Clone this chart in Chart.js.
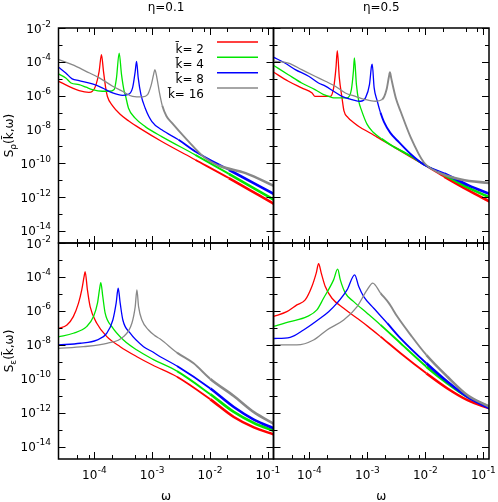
<!DOCTYPE html>
<html>
<head>
<meta charset="utf-8">
<title>S(k,w)</title>
<script src="https://cdn.jsdelivr.net/npm/chart.js@4.4.1/dist/chart.umd.min.js"></script>
<style>
  html, body { margin: 0; padding: 0; background: #fff; }
  #wrap { position: relative; width: 498px; height: 502px; overflow: hidden; }
  #wrap canvas { position: absolute; left: 0; top: 0; }
</style>
</head>
<body>
<div id="wrap">
  <canvas id="rho1" width="498" height="502"></canvas>
  <canvas id="rho5" width="498" height="502"></canvas>
  <canvas id="eps1" width="498" height="502"></canvas>
  <canvas id="eps5" width="498" height="502"></canvas>
</div>
<script>
// every point is [log10(omega), log10(S)]

// S_rho, eta = 0.1
var rho1_k2 = [[-4.62,-5.14],[-4.38,-5.54],[-4.26,-5.70],[-4.09,-5.80],[-4.03,-5.74],[-3.97,-5.39],[-3.913,-4.56],[-3.873,-3.58],[-3.838,-4.56],[-3.80,-5.54],[-3.77,-6.05],[-3.68,-6.6],[-3.55,-7.1],[-3.40,-7.5],[-3.20,-7.95],[-2.83,-8.71],[-2.25,-9.79],[-1.67,-10.87],[-0.88,-12.42]];
var rho1_k4 = [[-4.62,-4.71],[-4.49,-4.95],[-4.40,-5.25],[-4.26,-5.35],[-4.14,-5.50],[-4.03,-5.64],[-3.86,-5.74],[-3.74,-5.74],[-3.653,-5.64],[-3.613,-4.95],[-3.567,-3.48],[-3.526,-4.76],[-3.48,-5.74],[-3.46,-5.96],[-3.405,-6.74],[-3.29,-7.33],[-3.116,-7.83],[-2.83,-8.42],[-2.25,-9.5],[-1.67,-10.62],[-0.88,-12.17]];
var rho1_k8 = [[-4.62,-4.30],[-4.49,-4.66],[-4.38,-5.01],[-4.26,-5.11],[-4.03,-5.31],[-3.86,-5.54],[-3.68,-5.84],[-3.51,-5.98],[-3.42,-5.94],[-3.335,-5.54],[-3.289,-4.56],[-3.266,-3.97],[-3.237,-4.95],[-3.19,-5.94],[-3.116,-6.74],[-3.0,-7.53],[-2.83,-8.02],[-2.54,-8.61],[-2.25,-9.3],[-1.67,-10.38],[-0.88,-11.83]];
var rho1_k16 = [[-4.62,-3.86],[-4.38,-4.17],[-4.14,-4.56],[-3.91,-4.95],[-3.68,-5.44],[-3.51,-5.74],[-3.335,-6.04],[-3.16,-6.07],[-3.075,-5.94],[-3.018,-5.44],[-2.972,-4.76],[-2.949,-4.46],[-2.914,-4.95],[-2.874,-5.74],[-2.82,-6.6],[-2.75,-7.2],[-2.65,-7.63],[-2.42,-8.51],[-2.08,-9.69],[-1.85,-10.13],[-1.38,-10.58],[-0.88,-11.35]];

// S_rho, eta = 0.5
var rho5_k2 = [[-4.62,-4.60],[-4.36,-5.15],[-4.13,-5.54],[-3.95,-5.84],[-3.90,-6.04],[-3.72,-6.04],[-3.636,-6.04],[-3.578,-5.54],[-3.538,-4.36],[-3.515,-3.34],[-3.48,-4.95],[-3.434,-6.13],[-3.40,-6.9],[-3.33,-7.3],[-3.23,-7.6],[-3.13,-7.85],[-2.94,-8.22],[-2.83,-8.45],[-2.54,-9.02],[-2.25,-9.6],[-2.02,-10.07],[-1.672,-10.78],[-1.25,-11.6],[-0.88,-12.27]];
var rho5_k4 = [[-4.62,-4.20],[-4.36,-4.76],[-4.13,-5.25],[-3.90,-5.64],[-3.75,-5.94],[-3.665,-6.04],[-3.578,-6.13],[-3.434,-6.13],[-3.347,-6.13],[-3.272,-5.64],[-3.237,-4.56],[-3.22,-3.77],[-3.185,-5.35],[-3.145,-6.33],[-3.10,-6.84],[-3.0,-7.7],[-2.90,-8.15],[-2.75,-8.55],[-2.60,-8.9],[-2.25,-9.57],[-2.02,-10.07],[-1.672,-10.68],[-1.25,-11.45],[-0.88,-12.02]];
var rho5_k8 = [[-4.62,-3.72],[-4.42,-4.07],[-4.24,-4.46],[-4.01,-4.85],[-3.84,-5.25],[-3.72,-5.44],[-3.578,-5.74],[-3.434,-6.04],[-3.26,-6.23],[-3.116,-6.33],[-3.029,-6.13],[-2.96,-5.35],[-2.925,-4.26],[-2.913,-4.13],[-2.879,-5.54],[-2.827,-6.3],[-2.77,-7.0],[-2.71,-7.55],[-2.60,-8.2],[-2.48,-8.65],[-2.25,-9.45],[-2.02,-10.08],[-1.672,-10.6],[-1.25,-11.3],[-0.88,-11.82]];
var rho5_k16 = [[-4.62,-3.96],[-4.36,-4.07],[-4.13,-4.46],[-3.90,-4.85],[-3.72,-5.15],[-3.55,-5.44],[-3.376,-5.84],[-3.203,-6.04],[-3.029,-6.23],[-2.856,-6.33],[-2.74,-6.23],[-2.665,-5.64],[-2.625,-4.9],[-2.607,-4.62],[-2.585,-4.95],[-2.55,-5.5],[-2.50,-6.2],[-2.42,-6.95],[-2.25,-8.45],[-2.02,-9.95],[-1.79,-10.5],[-1.38,-10.95],[-0.88,-11.17]];

// S_eps, eta = 0.1
var eps1_k2 = [[-4.62,-7.04],[-4.47,-6.82],[-4.36,-6.33],[-4.27,-5.54],[-4.214,-4.76],[-4.173,-3.97],[-4.156,-3.68],[-4.116,-4.76],[-4.069,-5.74],[-3.954,-6.72],[-3.78,-7.51],[-3.549,-8.1],[-3.26,-8.69],[-2.99,-9.18],[-2.567,-9.87],[-1.99,-11.2],[-1.584,-12.24],[-1.237,-12.85],[-0.88,-13.28]];
var eps1_k4 = [[-4.62,-7.52],[-4.36,-7.31],[-4.13,-6.92],[-4.01,-6.33],[-3.942,-5.54],[-3.908,-4.76],[-3.884,-4.33],[-3.85,-5.15],[-3.809,-6.13],[-3.693,-6.92],[-3.492,-7.71],[-3.26,-8.3],[-2.99,-8.83],[-2.567,-9.54],[-1.99,-10.9],[-1.584,-11.94],[-1.237,-12.59],[-0.88,-13.06]];
var eps1_k8 = [[-4.62,-8.0],[-4.24,-7.9],[-3.954,-7.71],[-3.78,-7.31],[-3.676,-6.53],[-3.619,-5.54],[-3.584,-4.66],[-3.549,-5.54],[-3.503,-6.53],[-3.376,-7.31],[-3.145,-8.1],[-2.99,-8.4],[-2.856,-8.69],[-2.567,-9.24],[-1.99,-10.56],[-1.584,-11.65],[-1.237,-12.39],[-0.88,-12.92]];
var eps1_k16 = [[-4.62,-8.2],[-4.185,-8.1],[-3.78,-7.9],[-3.492,-7.51],[-3.347,-6.72],[-3.289,-5.74],[-3.26,-4.76],[-3.231,-5.74],[-3.173,-6.53],[-3.058,-7.12],[-2.95,-7.45],[-2.856,-7.65],[-2.567,-8.45],[-2.279,-9.08],[-1.99,-10.0],[-1.584,-11.0],[-1.237,-11.95],[-0.88,-12.66]];

// S_eps, eta = 0.5
var eps5_k2 = [[-4.62,-6.33],[-4.386,-6.04],[-4.213,-5.64],[-4.069,-5.35],[-3.954,-4.56],[-3.879,-3.77],[-3.838,-3.22],[-3.792,-3.77],[-3.723,-4.56],[-3.607,-5.25],[-3.405,-5.84],[-3.173,-6.43],[-2.983,-6.92],[-2.769,-7.51],[-2.423,-8.49],[-1.978,-9.67],[-1.614,-10.56],[-1.267,-11.25],[-0.88,-11.74]];
var eps5_k4 = [[-4.62,-6.91],[-4.329,-6.63],[-4.04,-6.33],[-3.867,-5.94],[-3.752,-5.25],[-3.579,-4.17],[-3.509,-3.54],[-3.463,-4.17],[-3.376,-4.95],[-3.232,-5.45],[-3.0,-6.13],[-2.769,-6.82],[-2.423,-7.9],[-1.978,-9.28],[-1.614,-10.26],[-1.267,-11.06],[-0.88,-11.65]];
var eps5_k8 = [[-4.62,-7.62],[-4.329,-7.55],[-4.098,-7.12],[-3.81,-6.43],[-3.665,-6.04],[-3.52,-5.54],[-3.347,-4.76],[-3.215,-3.87],[-3.145,-4.56],[-3.059,-5.15],[-2.886,-5.84],[-2.653,-6.72],[-2.423,-7.61],[-1.978,-9.08],[-1.614,-10.17],[-1.267,-11.06],[-0.88,-11.74]];
var eps5_k16 = [[-4.62,-8.0],[-4.213,-8.0],[-3.925,-7.71],[-3.693,-7.12],[-3.405,-6.53],[-3.173,-5.74],[-3.0,-4.76],[-2.903,-4.36],[-2.769,-4.95],[-2.625,-5.54],[-2.48,-6.33],[-2.25,-7.41],[-1.978,-8.59],[-1.614,-9.87],[-1.267,-10.96],[-0.88,-11.65]];

var kLabels = ['k\u0304= 2', 'k\u0304= 4', 'k\u0304= 8', 'k\u0304= 16'];
var lineColors = ['#ff0000', '#00e600', '#0000ff', '#888888'];
var etaTitles = ['\u03b7=0.1', '\u03b7=0.5'];
var ySubs = ['\u03c1', '\u03b5'];
var xTickExp = [-4, -3, -2, -1];
var yTickExp = [-2, -4, -6, -8, -10, -12, -14];
var xMinorMul = [2, 5, 8];

var xMin = 2.42e-5, xMax = 0.1268;
var yMin = 1.95e-15, yMax = 1e-2;
var FONT = '"DejaVu Sans", sans-serif';

function toPoints(arr) {
    return arr.map(function (p) { return { x: Math.pow(10, p[0]), y: Math.pow(10, p[1]) }; });
}

// noisy high-frequency tails look thicker in the original
function noiseWidth(ctx) {
    var x = ctx.p0.parsed.x;
    if (x < 1.5e-3) return 1.3;
    if (x < 1e-2) return 1.9;
    return 2.6;
}

function powLabel(ctx, exp, x, y, align) {
    ctx.font = '12px ' + FONT;
    var w1 = ctx.measureText('10').width;
    ctx.font = '9px ' + FONT;
    var sup = String(exp);
    var w2 = ctx.measureText(sup).width;
    var x0 = align === 'right' ? x - w1 - w2 : x - (w1 + w2) / 2;
    ctx.textAlign = 'left';
    ctx.font = '12px ' + FONT;
    ctx.fillText('10', x0, y);
    ctx.font = '9px ' + FONT;
    ctx.fillText(sup, x0 + w1 + 0.5, y - 6);
}

function decorPlugin(p) {
    return {
        id: 'decor',
        afterDraw: function (chart) {
            var ctx = chart.ctx, a = chart.chartArea;
            var xs = chart.scales.x, ys = chart.scales.y;
            var e, py, len;
            ctx.save();
            ctx.strokeStyle = '#000';
            ctx.fillStyle = '#000';
            ctx.textBaseline = 'alphabetic';

            // inward ticks on all four sides
            ctx.lineWidth = 1;
            ctx.beginPath();
            for (e = -5; e <= -1; e++) {
                [1].concat(xMinorMul).forEach(function (mm) {
                    var val = mm * Math.pow(10, e);
                    if (val < xs.min || val > xs.max) return;
                    var q = Math.round(xs.getPixelForValue(val)) + 0.5;
                    var l = mm === 1 ? 7 : 4;
                    ctx.moveTo(q, a.bottom); ctx.lineTo(q, a.bottom - l);
                    ctx.moveTo(q, a.top); ctx.lineTo(q, a.top + l);
                });
            }
            for (e = -14; e <= -2; e++) {
                py = Math.round(ys.getPixelForValue(Math.pow(10, e))) + 0.5;
                len = (e % 2 === 0) ? 7 : 4;
                ctx.moveTo(a.left, py); ctx.lineTo(a.left + len, py);
                ctx.moveTo(a.right, py); ctx.lineTo(a.right - len, py);
            }
            ctx.stroke();

            ctx.lineWidth = 1.5;
            ctx.strokeRect(a.left, a.top, a.right - a.left, a.bottom - a.top);

            var cx = (a.left + a.right) / 2;
            var cy = (a.top + a.bottom) / 2;

            if (p.yLabels) {
                yTickExp.forEach(function (ex) {
                    var yy = ys.getPixelForValue(Math.pow(10, ex));
                    powLabel(ctx, ex, 50.5, yy + 4.5, 'right');
                });
                // rotated axis title S_sub(k,w)
                ctx.save();
                ctx.translate(12.5, cy);
                ctx.rotate(-Math.PI / 2);
                ctx.textAlign = 'left';
                ctx.font = '12px ' + FONT;
                var wS = ctx.measureText('S').width;
                var rest = '(k\u0304,\u03c9)';
                var wR = ctx.measureText(rest).width;
                ctx.font = '9px ' + FONT;
                var wSub = ctx.measureText(p.sub).width;
                var sx = -(wS + wSub + wR) / 2;
                ctx.font = '12px ' + FONT;
                ctx.fillText('S', sx, 0);
                ctx.font = '9px ' + FONT;
                ctx.fillText(p.sub, sx + wS, 3);
                ctx.font = '12px ' + FONT;
                ctx.fillText(rest, sx + wS + wSub, 0);
                ctx.restore();
            }
            if (p.xLabels) {
                xTickExp.forEach(function (ex) {
                    var xx = xs.getPixelForValue(Math.pow(10, ex));
                    powLabel(ctx, ex, xx, 479, 'center');
                });
                ctx.font = '12px ' + FONT;
                ctx.textAlign = 'center';
                ctx.fillText('\u03c9', cx, 499.5);
            }
            if (p.title) {
                ctx.font = '12px ' + FONT;
                ctx.textAlign = 'center';
                ctx.fillText(p.title, cx, 10.5);
            }
            if (p.legend) {
                ctx.font = '12px ' + FONT;
                ctx.textAlign = 'right';
                kLabels.forEach(function (lab, i) {
                    var ly = 42 + i * 15.33;
                    ctx.fillStyle = '#000';
                    ctx.fillText(lab, 204, ly + 10.5);
                    ctx.strokeStyle = lineColors[i];
                    ctx.lineWidth = 1.5;
                    ctx.beginPath();
                    ctx.moveTo(217, ly);
                    ctx.lineTo(258, ly);
                    ctx.stroke();
                });
            }
            ctx.restore();
        }
    };
}

function makePanel(id, series, area, p) {
    return new Chart(document.getElementById(id), {
        type: 'line',
        data: {
            datasets: series.map(function (s, i) {
                return {
                    label: kLabels[i],
                    data: toPoints(s),
                    borderColor: lineColors[i],
                    borderWidth: 1.3,
                    pointRadius: 0,
                    cubicInterpolationMode: 'monotone',
                    fill: false,
                    order: series.length - i,
                    segment: { borderWidth: noiseWidth }
                };
            })
        },
        options: {
            responsive: false,
            animation: false,
            devicePixelRatio: 1,
            events: [],
            layout: { padding: { left: area[0], top: area[1], right: 498 - area[2], bottom: 502 - area[3] } },
            scales: {
                x: { type: 'logarithmic', min: xMin, max: xMax, display: false },
                y: { type: 'logarithmic', min: yMin, max: yMax, display: false }
            },
            plugins: { legend: { display: false }, tooltip: { enabled: false } }
        },
        plugins: [decorPlugin(p)]
    });
}

makePanel('rho1', [rho1_k2, rho1_k4, rho1_k8, rho1_k16], [58.5, 28, 273.5, 243],
    { yLabels: true, xLabels: false, title: etaTitles[0], legend: true, sub: ySubs[0] });
makePanel('rho5', [rho5_k2, rho5_k4, rho5_k8, rho5_k16], [273.5, 28, 489, 243],
    { yLabels: false, xLabels: false, title: etaTitles[1], legend: false });
makePanel('eps1', [eps1_k2, eps1_k4, eps1_k8, eps1_k16], [58.5, 243, 273.5, 459],
    { yLabels: true, xLabels: true, title: null, legend: false, sub: ySubs[1] });
makePanel('eps5', [eps5_k2, eps5_k4, eps5_k8, eps5_k16], [273.5, 243, 489, 459],
    { yLabels: false, xLabels: true, title: null, legend: false });
</script>
</body>
</html>
